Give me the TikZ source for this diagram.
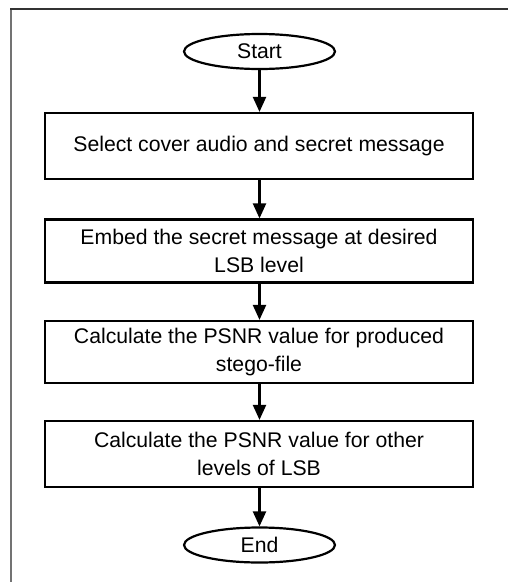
\documentclass[tikz,border=0pt]{standalone}
\usepackage{fontspec}
\setmainfont{Liberation Sans}
\usetikzlibrary{arrows.meta,shapes.geometric}
\begin{document}
\begin{tikzpicture}[x=1pt,y=-1pt,
  txt/.style={font=\fontsize{21.2}{27.5}\selectfont},
  proc/.style={draw,line width=2.2pt,minimum width=428pt,minimum height=#1,align=center,inner sep=0pt,txt},
  term/.style={draw,ellipse,line width=2.2pt,minimum width=151pt,minimum height=35pt,inner sep=0pt,txt},
  flow/.style={line width=2.2pt,-{Triangle[width=13pt,length=15pt]}}]
\useasboundingbox (0,0) rectangle (508,582);
\draw[black!55,line width=2pt] (11,582) -- (11,9.5);
\draw[black!80,line width=2pt] (10,8.5) -- (508,8.5);
\node[term] (start) at (259.5,51.5) {Start};
\node[proc=66pt] (b1) at (259,146) {Select cover audio and secret message};
\node[proc=63pt] (b2) at (259,251) {Embed the secret message at desired\\LSB level};
\node[proc=62pt] (b3) at (259,352) {Calculate the PSNR value for produced\\stego-file};
\node[proc=66pt] (b4) at (259,454) {Calculate the PSNR value for other\\levels of LSB};
\node[term] (end) at (259.5,545) {End};
\draw[flow] (start.south) -- (start.south |- b1.north);
\draw[flow] (b1.south -| start.south) -- (b2.north -| start.south);
\draw[flow] (b2.south -| start.south) -- (b3.north -| start.south);
\draw[flow] (b3.south -| start.south) -- (b4.north -| start.south);
\draw[flow] (b4.south -| start.south) -- (end.north);
\end{tikzpicture}
\end{document}
